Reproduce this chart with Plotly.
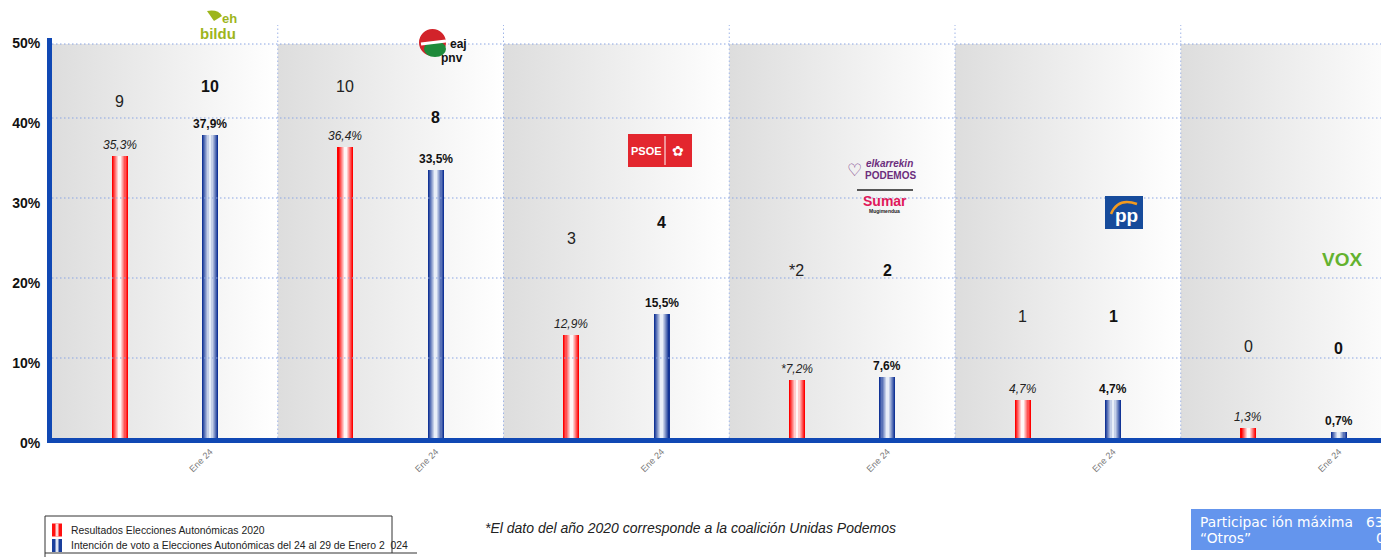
import plotly.graph_objects as go

# ---------------- data ----------------
parties = ["EH Bildu", "PNV", "PSOE", "Elkarrekin Podemos / Sumar", "PP", "VOX"]
votes_2020 = [35.3, 36.4, 12.9, 7.2, 4.7, 1.3]
votes_2024 = [37.9, 33.5, 15.5, 7.6, 4.7, 0.7]
labels_2020 = ["35,3%", "36,4%", "12,9%", "*7,2%", "4,7%", "1,3%"]
labels_2024 = ["37,9%", "33,5%", "15,5%", "7,6%", "4,7%", "0,7%"]
seats_2020 = ["9", "10", "3", "*2", "1", "0"]
seats_2024 = ["10", "8", "4", "2", "1", "0"]
tick_label = "Ene 24"
series_names = ["Resultados Elecciones Autonómicas 2020",
                "Intención de voto a Elecciones Autonómicas del 24 al 29 de Enero 2  024"]
footnote = "*El dato del año 2020 corresponde a la coalición Unidas Podemos"
info_lines = [("Participac ión máxima", "63,0%"), ("\u201cOtros\u201d", "0,1%")]

# seat-label heights (in % units, as placed on the chart)
seat_y_2020 = [42.1, 43.9, 25.0, 21.0, 15.25, 11.5]
seat_y_2024 = [43.9, 40.1, 27.0, 21.0, 15.25, 11.25]

# ---------------- geometry ----------------
W, H = 1389, 557
PAGE_OFF = 8                       # default body margin of the html page
PL, PT, PB = 52, 38, 438           # plot area in page pixels (left, top, bottom)
ML = PL - PAGE_OFF
MT = PT - PAGE_OFF
MB = H - (PB - PAGE_OFF)
PLOT_W = W - ML
PLOT_H = H - MT - MB
GROUP_PX = 225.75
XMAX_FIG = -0.5 + PLOT_W / GROUP_PX
OFF = 0.2
BAR_W = 16 / GROUP_PX
FONT = "Liberation Sans"


def px(x):
    """page x pixel -> paper"""
    return (x - PL) / PLOT_W


def py(y):
    """page y pixel -> paper"""
    return (PB - y) / PLOT_H


n = len(parties)
xs_red = [i - OFF for i in range(n)]
xs_blue = [i + OFF for i in range(n)]

fig = go.Figure()

# gradient background bands per group (bottom subplot layer)
for i in range(n):
    fig.add_trace(go.Scatter(
        x=[i - 0.5, i + 0.5, i + 0.5, i - 0.5, i - 0.5],
        y=[0, 0, 49.25, 49.25, 0],
        mode="none", fill="toself",
        fillgradient=dict(type="horizontal",
                          colorscale=[[0, "#dddddd"], [1, "#ffffff"]]),
        hoverinfo="skip", showlegend=False, xaxis="x", yaxis="y"))


def lerp(c1, c2, t):
    return "rgb(%d,%d,%d)" % tuple(round(a + (b - a) * t) for a, b in zip(c1, c2))


def add_cyl(xvals, yvals, edge, center, name):
    layers = 7
    for k in range(layers):
        t = k / (layers - 1)
        fig.add_trace(go.Bar(
            x=xvals, y=yvals, width=BAR_W * (1 - 0.82 * t),
            marker=dict(color=lerp(edge, center, t), line=dict(width=0)),
            name=name, showlegend=False, hoverinfo="skip",
            xaxis="x2", yaxis="y2"))


add_cyl(xs_red, votes_2020, (255, 0, 0), (255, 246, 246), series_names[0])
add_cyl(xs_blue, votes_2024, (18, 52, 150), (232, 238, 248), series_names[1])

shapes = []
annotations = []


def ann(x, y, text, size, color, family=FONT, xanchor="center", yanchor="middle"):
    annotations.append(dict(x=px(x), y=py(y), xref="paper", yref="paper", text=text,
                            showarrow=False, xanchor=xanchor, yanchor=yanchor,
                            font=dict(family=family, size=size, color=color)))


def rect(x0, y0, x1, y1, color, kind="rect"):
    shapes.append(dict(type=kind, xref="paper", yref="paper",
                       x0=px(x0), x1=px(x1), y0=py(y1), y1=py(y0),
                       fillcolor=color, line=dict(width=0)))


def line(x0, y0, x1, y1, color, width=1, dash="solid", layer="above"):
    shapes.append(dict(type="line", xref="paper", yref="paper",
                       x0=px(x0), x1=px(x1), y0=py(y0), y1=py(y1),
                       line=dict(color=color, width=width, dash=dash), layer=layer))


GRID_DASH = "1.5px,2.5px"
# horizontal dotted grid lines
for g in [10, 20, 30, 40, 49.25]:
    shapes.append(dict(type="line", xref="paper", yref="y", x0=0, x1=1, y0=g, y1=g,
                       line=dict(color="#8aa5e3", width=1, dash=GRID_DASH), layer="above"))
# vertical dotted group separators
for i in range(1, n):
    xx = PL + i * GROUP_PX
    line(xx, PB, xx, 25, "#9fb5e8", 1, GRID_DASH)

# value + seat labels
for i in range(n):
    annotations.append(dict(x=xs_red[i], y=votes_2020[i], xref="x", yref="y",
                            text="<i>%s</i>" % labels_2020[i], showarrow=False,
                            xanchor="center", yanchor="bottom", yshift=2,
                            font=dict(family=FONT, size=12, color="#222")))
    annotations.append(dict(x=xs_blue[i], y=votes_2024[i], xref="x", yref="y",
                            text="<b>%s</b>" % labels_2024[i], showarrow=False,
                            xanchor="center", yanchor="bottom", yshift=2,
                            font=dict(family=FONT, size=12, color="#111")))
    annotations.append(dict(x=xs_red[i], y=seat_y_2020[i], xref="x", yref="y",
                            text=seats_2020[i], showarrow=False,
                            xanchor="center", yanchor="middle",
                            font=dict(family=FONT, size=16, color="#222")))
    annotations.append(dict(x=xs_blue[i], y=seat_y_2024[i], xref="x", yref="y",
                            text="<b>%s</b>" % seats_2024[i], showarrow=False,
                            xanchor="center", yanchor="middle",
                            font=dict(family=FONT, size=16, color="#111")))

# ---- party "logos" (text approximations) ----
# EH Bildu
shapes.append(dict(type="path", xref="paper", yref="paper",
                   path="M %f,%f Q %f,%f %f,%f L %f,%f Z" % (
                       px(207), py(11), px(218), py(9), px(222), py(16),
                       px(214), py(21)),
                   fillcolor="#9db51c", line=dict(width=0)))
ann(229, 19, "<b>eh</b>", 13, "#9db51c")
ann(218, 33, "<b>bildu</b>", 15, "#9db51c")
# PNV
rect(419, 29, 446, 56, "#d2232a", "circle")
rect(424, 41, 446, 57, "#1d8a3a", "circle")
line(421, 44, 446, 41, "white", 3)
ann(458, 43.5, "<b>eaj</b>", 12, "#111")
ann(452, 58, "<b>pnv</b>", 12, "#111")
# PSOE
rect(628, 134, 692, 167, "#e3262e")
line(665, 136, 665, 165, "white", 1)
ann(646, 151, "<b>PSOE</b>", 11, "white")
ann(678, 151, "\u273f", 14, "white", family="DejaVu Sans")
# Elkarrekin Podemos
ann(854, 170, "\u2661", 17, "#7b3d8a", family="DejaVu Sans")
ann(864, 163, "<b><i>elkarrekin</i></b>", 10, "#6c2d7d", xanchor="left")
ann(863, 175, "<b>PODEMOS</b>", 10, "#6c2d7d", xanchor="left")
# Sumar
line(857, 190, 913, 190, "#222", 1.5)
ann(885, 201, "<b>Sumar</b>", 14, "#e0195a")
ann(885, 211, "<b>Mugimendua</b>", 5, "#222")
# PP
rect(1105, 196, 1143, 229, "#164b9b")
shapes.append(dict(type="path", xref="paper", yref="paper",
                   path="M %f,%f Q %f,%f %f,%f" % (px(1111), py(214), px(1118), py(197),
                                                   px(1137), py(204)),
                   line=dict(color="#f29a1f", width=2.5)))
ann(1126, 216, "<b>pp</b>", 19, "white")
# VOX
ann(1342, 260, "<b>VOX</b>", 19, "#63b22f")

# ---- legend box (bottom-left) ----
line(45, 516, 392, 516, "#333")
line(392, 516, 392, 553, "#333")
line(45, 553, 417, 553, "#333")
line(45, 516, 45, 560, "#333")
for row, (edge, center, name) in enumerate([("#ff1010", "#ffd8d8", series_names[0]),
                                            ("#1a3f9c", "#dfe6f4", series_names[1])]):
    ymid = 530 + row * 15.5
    rect(52, ymid - 6.5, 62, ymid + 6.5, edge)
    rect(55.5, ymid - 6.5, 58.5, ymid + 6.5, center)
    ann(69, ymid, name, 10.4, "#222", xanchor="left")

# footnote
ann(483, 528, "<i>%s</i>" % footnote, 14, "#222", xanchor="left")

# info box (bottom-right)
rect(1191, 509, 1420, 550, "#6495ed")
INFO_SIZE = 13.8
ann(1198, 522, info_lines[0][0], INFO_SIZE, "white", family="DejaVu Sans", xanchor="left")
ann(1364, 522, info_lines[0][1], INFO_SIZE, "white", family="DejaVu Sans", xanchor="left")
ann(1198, 538, info_lines[1][0], INFO_SIZE, "white", family="DejaVu Sans", xanchor="left")
ann(1374, 538, info_lines[1][1], INFO_SIZE, "white", family="DejaVu Sans", xanchor="left")

axis_common = dict(fixedrange=True, showgrid=False, zeroline=False)
fig.update_layout(
    width=W, height=H,
    margin=dict(l=ML, r=0, t=MT, b=MB, autoexpand=False),
    paper_bgcolor="white", plot_bgcolor="white",
    barmode="overlay", bargap=0,
    showlegend=False,
    shapes=shapes, annotations=annotations,
    font=dict(family=FONT),
    xaxis=dict(range=[-0.5, XMAX_FIG], tickmode="array", tickvals=xs_blue,
               ticktext=[tick_label] * n, tickangle=-45,
               tickfont=dict(family=FONT, size=9, color="#777"),
               showline=True, linecolor="#1048b4", linewidth=5, **axis_common),
    yaxis=dict(range=[0, 50], tickmode="array", tickvals=[0, 10, 20, 30, 40, 50],
               ticktext=["<b>%d%%</b>" % v for v in [0, 10, 20, 30, 40, 50]],
               tickfont=dict(family=FONT, size=14, color="#111"),
               ticklabelshift=5, ticklabelstandoff=4,
               showline=True, linecolor="#1048b4", linewidth=5, **axis_common),
    xaxis2=dict(range=[-0.5, XMAX_FIG], overlaying="x", visible=False, **axis_common),
    yaxis2=dict(range=[0, 50], overlaying="y", visible=False, **axis_common),
)

fig.write_html("out.html")
